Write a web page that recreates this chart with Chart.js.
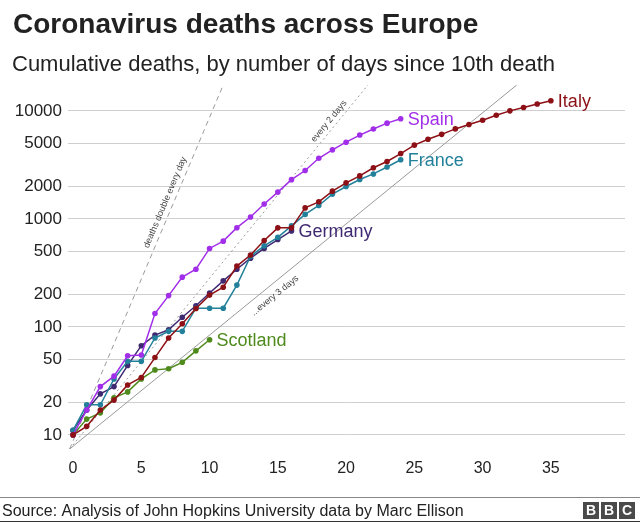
<!DOCTYPE html>
<html>
<head>
<meta charset="utf-8">
<script src="https://cdn.jsdelivr.net/npm/chart.js@4/dist/chart.umd.min.js"></script>
<style>
  body { margin: 0; background: #fff; }
  canvas { display: block; }
</style>
</head>
<body>
<canvas id="chart" width="640" height="522"></canvas>
<script>
// Cumulative deaths, index = days since 10th death
const italy = [10, 12, 17, 21, 29, 34, 52, 79, 107, 148, 197, 233, 366, 463, 631, 827, 827, 1266, 1441, 1809,
  2158, 2503, 2978, 3405, 4032, 4825, 5476, 6077, 6820, 7503, 8215, 9134, 10023, 10779, 11591, 12428];
const spain = [10, 17, 28, 35, 54, 55, 133, 195, 289, 342, 533, 623, 830, 1043, 1375, 1772, 2311, 2808, 3647,
  4365, 5138, 5982, 6803, 7716, 8464];
const france = [11, 19, 19, 33, 48, 48, 79, 91, 91, 149, 149, 149, 244, 451, 563, 676, 862, 1102, 1333, 1698,
  1997, 2317, 2611, 3030, 3532];
const germany = [11, 17, 24, 28, 44, 67, 84, 94, 123, 157, 206, 267, 342, 433, 533, 645, 775];
const scotland = [10, 14, 16, 22, 25, 33, 40, 41, 47, 60, 76];

const countryNames = ['Italy', 'Spain', 'France', 'Germany', 'Scotland'];
const countryColors = ['#8c1015', '#a12ee8', '#22809a', '#3f2a72', '#4f8a1c'];

const xTicks = [0, 5, 10, 15, 20, 25, 30, 35];
const yTicks = [10, 20, 50, 100, 200, 500, 1000, 2000, 5000, 10000];

// doubling guide lines: start point and the day at which each reaches the top of the plot
const guideStart = { x: -0.25, y: 7.4 };
const guideTop = 17400;
const guideEndDays = [11.0, 21.6, 32.5];
const guideLabels = ['deaths double every day', 'every 2 days', '...every 3 days'];
const guideDash = [[5, 4], [2, 3], []];
// where the guide text sits: fraction along the line, and offset to its upper-left side
const guideLabelPos = [[0.669, 7.8], [0.888, 7.2], [0.444, -10.6]];

const FONT = "'Liberation Sans', Arial, sans-serif";

const series = [italy, spain, france, germany, scotland];
const datasets = series.map((vals, i) => ({
  label: countryNames[i],
  data: vals.map((v, d) => ({ x: d, y: v })),
  borderColor: countryColors[i],
  backgroundColor: countryColors[i],
  borderWidth: 1.5,
  pointRadius: 2.8,
  pointBorderWidth: 0,
  tension: 0
}));

guideEndDays.forEach((d, i) => {
  datasets.push({
    label: guideLabels[i],
    data: [{ x: guideStart.x, y: guideStart.y }, { x: d, y: guideTop }],
    borderColor: '#9a9a9a',
    borderWidth: 1,
    borderDash: guideDash[i],
    pointRadius: 0,
    tension: 0
  });
});

// end-of-line country labels + guide text
const labelPlugin = {
  id: 'labels',
  afterDatasetsDraw(chart) {
    const { ctx, scales: { x, y } } = chart;
    ctx.save();

    // guide annotations
    ctx.font = '9px ' + FONT;
    ctx.fillStyle = '#444';
    ctx.textAlign = 'center';
    ctx.textBaseline = 'middle';
    guideEndDays.forEach((d, i) => {
      const x0 = x.getPixelForValue(guideStart.x), y0 = y.getPixelForValue(guideStart.y);
      const x1 = x.getPixelForValue(d), y1 = y.getPixelForValue(guideTop);
      const len = Math.hypot(x1 - x0, y1 - y0);
      const dx = (x1 - x0) / len, dy = (y1 - y0) / len;
      const [t, s] = guideLabelPos[i];
      const px = x0 + dx * len * t + dy * s;
      const py = y0 + dy * len * t - dx * s;
      ctx.save();
      ctx.translate(px, py);
      ctx.rotate(Math.atan2(dy, dx));
      ctx.fillText(guideLabels[i], 0, 0);
      ctx.restore();
    });

    // country labels
    ctx.font = '18px ' + FONT;
    ctx.textAlign = 'left';
    series.forEach((vals, i) => {
      const last = vals.length - 1;
      ctx.fillStyle = countryColors[i];
      ctx.fillText(countryNames[i], x.getPixelForValue(last) + 7, y.getPixelForValue(vals[last]) + 1);
    });
    ctx.restore();
  },
  afterDraw(chart) {
    const ctx = chart.ctx;
    ctx.save();
    ctx.textBaseline = 'alphabetic';
    ctx.textAlign = 'left';
    ctx.fillStyle = '#222';
    ctx.font = 'bold 28px ' + FONT;
    ctx.fillText('Coronavirus deaths across Europe', 13, 33);
    ctx.font = '22px ' + FONT;
    ctx.fillText('Cumulative deaths, by number of days since 10th death', 12, 71);

    // footer
    ctx.fillStyle = '#888';
    ctx.fillRect(0, 497, 640, 1);
    ctx.fillStyle = '#333';
    ctx.fillRect(0, 521, 640, 1);
    ctx.fillStyle = '#222';
    ctx.font = '16px ' + FONT;
    ctx.fillText('Source: Analysis of John Hopkins University data by Marc Ellison', 2, 516);

    // BBC blocks
    ctx.font = 'bold 14px ' + FONT;
    ctx.textAlign = 'center';
    ctx.textBaseline = 'middle';
    ['B', 'B', 'C'].forEach((ch, i) => {
      const bx = 583 + i * 18;
      ctx.fillStyle = '#4a4a4a';
      ctx.fillRect(bx, 502, 16, 17);
      ctx.fillStyle = '#fff';
      ctx.fillText(ch, bx + 8, 511);
    });
    ctx.restore();
  }
};

new Chart(document.getElementById('chart'), {
  type: 'line',
  data: { datasets },
  options: {
    responsive: false,
    animation: false,
    layout: { padding: { top: 85, right: 15, left: 0, bottom: 0 } },
    plugins: {
      legend: { display: false },
      tooltip: { enabled: false }
    },
    scales: {
      x: {
        type: 'linear',
        min: -0.37,
        max: 40.43,
        grid: { display: false },
        border: { display: false },
        afterBuildTicks: s => { s.ticks = xTicks.map(v => ({ value: v })); },
        afterFit: s => { s.height = 73; },
        ticks: { font: { size: 16, family: FONT }, color: '#222', padding: 2, maxRotation: 0 }
      },
      y: {
        type: 'logarithmic',
        min: 7.4,
        max: 17400,
        grid: { color: '#cfcfcf', drawTicks: false },
        border: { display: false },
        afterBuildTicks: s => { s.ticks = yTicks.map(v => ({ value: v })); },
        afterFit: s => { s.width = 68; },
        ticks: { font: { size: 17, family: FONT }, color: '#222', padding: 6, callback: v => String(v) }
      }
    }
  },
  plugins: [labelPlugin]
});
</script>
</body>
</html>
